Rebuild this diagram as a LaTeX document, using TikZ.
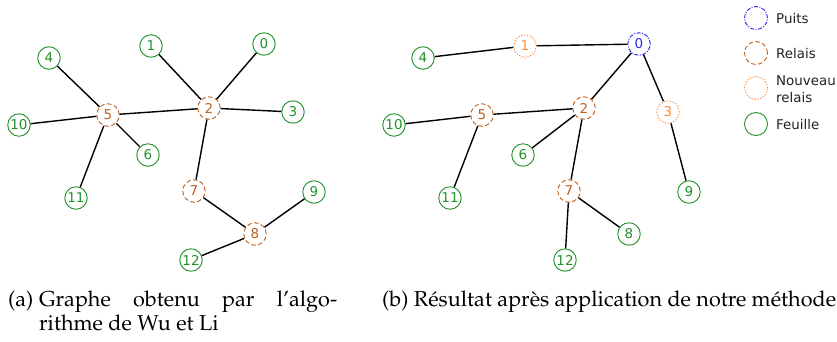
\documentclass[tikz,border=0pt]{standalone}
\usepackage{fontspec}
\newfontfamily\nodefont{DejaVu Sans}
\usepackage{xcolor}
\definecolor{leafgreen}{HTML}{23902A}
\definecolor{relaybrown}{HTML}{C0601F}
\definecolor{newrelay}{HTML}{FF8A3D}
\definecolor{sinkblue}{HTML}{2828F0}
\definecolor{legendtext}{HTML}{222222}
% Palatino for the sub-captions
\newcommand{\capfont}{\fontencoding{T1}\fontfamily{ppl}\fontsize{21.6}{24}\selectfont}
\begin{document}
\begin{tikzpicture}[x=1pt,y=-1pt,
  vertex/.style={circle,minimum size=22.5pt,inner sep=0pt,line width=0.9pt,
    font=\nodefont\fontsize{13.5}{13.5}\selectfont},
  leaf/.style={vertex,draw=leafgreen,text=leafgreen},
  relay/.style={vertex,draw=relaybrown,text=relaybrown,dash pattern=on 4.5pt off 2.5pt},
  newrelay/.style={vertex,draw=newrelay,text=newrelay,dash pattern=on 1.3pt off 1.6pt},
  sink/.style={vertex,draw=sinkblue,text=sinkblue,dash pattern=on 4pt off 1.5pt on 1pt off 1.5pt},
  link/.style={line width=1.4pt,black},
  legendlabel/.style={anchor=west,inner sep=0pt,text=legendtext,align=left,
    font=\nodefont\fontsize{13.4}{16.5}\selectfont},
  caption/.style={anchor=base west,inner sep=0pt,font=\capfont}]
\useasboundingbox (0,0) rectangle (837,341);

% Wu and Li graph
\node[leaf]  (a0)  at (264,44)  {0};
\node[leaf]  (a1)  at (151,46)  {1};
\node[relay] (a2)  at (209,108) {2};
\node[leaf]  (a3)  at (293,112) {3};
\node[leaf]  (a4)  at (49,58)   {4};
\node[relay] (a5)  at (108,115) {5};
\node[leaf]  (a6)  at (148,155) {6};
\node[relay] (a7)  at (194,191) {7};
\node[relay] (a8)  at (255,234) {8};
\node[leaf]  (a9)  at (314,192) {9};
\node[leaf]  (a10) at (19,125)  {10};
\node[leaf]  (a11) at (76,198)  {11};
\node[leaf]  (a12) at (191,260) {12};
\foreach \u/\v in {a4/a5,a10/a5,a11/a5,a6/a5,a5/a2,a1/a2,a0/a2,a3/a2,a2/a7,a7/a8,a8/a9,a8/a12}
  \draw[link] (\u) -- (\v);

% graph after our method
\node[sink]     (b0)  at (639,44)  {0};
\node[newrelay] (b1)  at (525,46)  {1};
\node[relay]    (b2)  at (584,108) {2};
\node[newrelay] (b3)  at (668,112) {3};
\node[leaf]     (b4)  at (423,58)  {4};
\node[relay]    (b5)  at (482,115) {5};
\node[leaf]     (b6)  at (523,155) {6};
\node[relay]    (b7)  at (569,191) {7};
\node[leaf]     (b8)  at (629,234) {8};
\node[leaf]     (b9)  at (689,192) {9};
\node[leaf]     (b10) at (394,125) {10};
\node[leaf]     (b11) at (450,198) {11};
\node[leaf]     (b12) at (565,260) {12};
\foreach \u/\v in {b4/b1,b1/b0,b0/b2,b0/b3,b3/b9,b2/b5,b5/b10,b5/b11,b2/b6,b2/b7,b7/b12,b7/b8}
  \draw[link] (\u) -- (\v);

% legend
\node[sink,minimum size=23pt]     (lsink)  at (756,18)  {};
\node[relay,minimum size=23pt]    (lrelay) at (756,53)  {};
\node[newrelay,minimum size=23pt] (lnew)   at (756,88)  {};
\node[leaf,minimum size=23pt]     (lleaf)  at (756,124) {};
\node[legendlabel] (tsink)  at (776,18)  {Puits};
\node[legendlabel] (trelay) at (776,53)  {Relais};
\node[legendlabel] (tnew)   at (776,89)  {Nouveau\\relais};
\node[legendlabel] (tleaf)  at (776,124) {Feuille};

% sub-captions
\node[caption] (capa)  at (8,306)  {(a)};
\node[caption] (capa1) at (39,306) {\makebox[298pt][s]{Graphe obtenu par l'algo-}};
\node[caption] (capa2) at (39,330) {rithme de Wu et Li};
\node[caption] (capb)  at (382,306) {(b) R\'esultat apr\`es application de notre m\'ethode};
\end{tikzpicture}
\end{document}
